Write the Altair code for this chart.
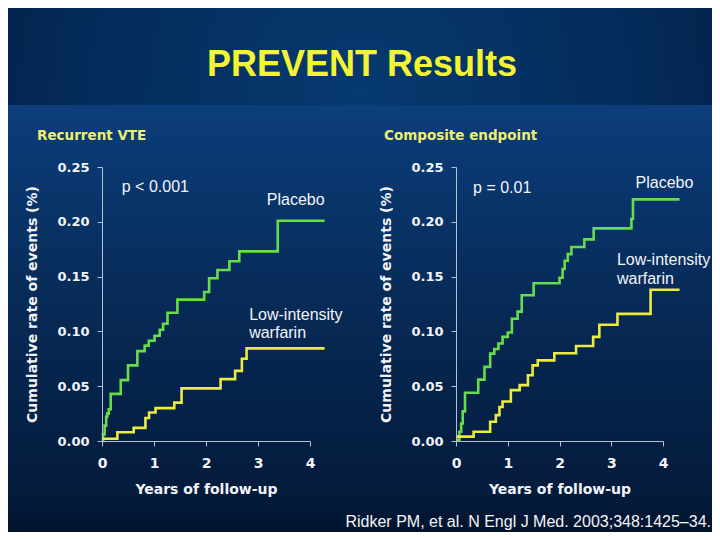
import altair as alt
import pandas as pd

# ---------------- data ----------------
TITLE = "PREVENT Results"
FOOTER = "Ridker PM, et al. N Engl J Med. 2003;348:1425\u201334."
GROUPS = ["Placebo", "Low-intensity warfarin"]

# Recurrent VTE
vte_placebo_t = [0, 0.02, 0.05, 0.08, 0.10, 0.13, 0.167, 0.36, 0.50, 0.68, 0.82, 0.90, 1.01, 1.11, 1.175,
                 1.26, 1.45, 1.965, 2.06, 2.22, 2.45, 2.64, 3.38, 4.28]
vte_placebo_v = [0.0, 0.006, 0.014, 0.022, 0.025, 0.029, 0.043, 0.0555, 0.069, 0.082, 0.087, 0.0915, 0.096,
                 0.1015, 0.107, 0.117, 0.129, 0.136, 0.1485, 0.156, 0.164, 0.173, 0.201, 0.201]
vte_warfarin_t = [0, 0.295, 0.61, 0.835, 0.905, 1.03, 1.39, 1.53, 2.28, 2.56, 2.69, 2.78, 4.28]
vte_warfarin_v = [0.002, 0.008, 0.012, 0.021, 0.026, 0.030, 0.035, 0.048, 0.0565, 0.064, 0.075, 0.0845, 0.0845]

# Composite endpoint
comp_placebo_t = [0, 0.065, 0.10, 0.13, 0.174, 0.43, 0.55, 0.66, 0.74, 0.82, 0.90, 1.0, 1.08, 1.19, 1.27,
                  1.50, 2.0, 2.06, 2.10, 2.16, 2.23, 2.48, 2.66, 3.39, 3.42, 4.32]
comp_placebo_v = [0.001, 0.0085, 0.016, 0.027, 0.044, 0.056, 0.0676, 0.0797, 0.084, 0.089, 0.095, 0.099,
                  0.1115, 0.118, 0.133, 0.144, 0.149, 0.157, 0.1645, 0.1705, 0.177, 0.184, 0.194, 0.2025,
                  0.2205, 0.2205]
comp_warfarin_t = [0, 0.34, 0.66, 0.77, 0.84, 0.90, 1.06, 1.23, 1.39, 1.48, 1.58, 1.90, 2.32, 2.65, 2.77,
                   3.12, 3.76, 4.32]
comp_warfarin_v = [0.004, 0.0085, 0.0176, 0.0236, 0.031, 0.036, 0.0464, 0.051, 0.060, 0.069, 0.0736, 0.080,
                   0.0867, 0.095, 0.106, 0.116, 0.138, 0.138]

x_ticks = [0, 1, 2, 3, 4]
y_ticks = [0.0, 0.05, 0.10, 0.15, 0.20, 0.25]

# annotation labels (data units)
vte_labels = ["p < 0.001", "Placebo", "Low-intensity", "warfarin"]
vte_label_t = [0.38, 3.17, 2.83, 2.83]
vte_label_v = [0.232, 0.220, 0.115, 0.0985]
comp_labels = ["p = 0.01", "Placebo", "Low-intensity", "warfarin"]
comp_label_t = [0.33, 3.47, 3.11, 3.11]
comp_label_v = [0.231, 0.2354, 0.165, 0.148]

# ---------------- styling ----------------
FONT = "Liberation Sans"
AXFONT = "DejaVu Sans"
WHITE = "#f2f4f8"
AXIS_COL = "#b4c2d6"
GREEN = "#66dd4a"
YELLOW = "#ecec3c"
SUB_YELLOW = "#eef070"

W_PANEL, H_PANEL = 352, 400
Y_RANGE = [336, 62]

lower_grad = alt.LinearGradient(
    gradient="linear", x1=0, y1=0, x2=0, y2=1,
    stops=[alt.GradientStop(color="#0b3e7c", offset=0),
           alt.GradientStop(color="#072a56", offset=0.5),
           alt.GradientStop(color="#041a3a", offset=1)])
title_grad = alt.RadialGradient(
    gradient="radial", x1=0.5, y1=0.55, r1=0, x2=0.5, y2=0.55, r2=0.75,
    stops=[alt.GradientStop(color="#063a70", offset=0),
           alt.GradientStop(color="#042a58", offset=0.55),
           alt.GradientStop(color="#011a38", offset=1)])
foot_grad = alt.LinearGradient(
    gradient="linear", x1=0, y1=0, x2=0, y2=1,
    stops=[alt.GradientStop(color="#041a3a", offset=0),
           alt.GradientStop(color="#02132c", offset=1)])

ONE = pd.DataFrame({"k": [0]})


def backdrop(w, h, grad):
    return alt.Chart(ONE).mark_rect(fill=grad, strokeWidth=0).encode(
        x=alt.value(0), x2=alt.value(w), y=alt.value(0), y2=alt.value(h))


def panel(pl_t, pl_v, wf_t, wf_v, subtitle, labels, lab_t, lab_v, x_range, sub_x):
    df = pd.DataFrame({
        "t": list(pl_t) + list(wf_t),
        "v": list(pl_v) + list(wf_v),
        "grp": [GROUPS[0]] * len(pl_t) + [GROUPS[1]] * len(wf_t),
    })
    ann = pd.DataFrame({"t": lab_t, "v": lab_v, "label": labels})
    sub = pd.DataFrame({"label": [subtitle]})

    x_enc = alt.X("t:Q", scale=alt.Scale(domain=[0, 4], range=x_range, nice=False, zero=False),
                  axis=alt.Axis(values=x_ticks, format="d", title="Years of follow-up", offset=-64,
                                tickSize=5, labelPadding=10, titlePadding=12, grid=False,
                                domainColor=AXIS_COL, tickColor=AXIS_COL, labelColor=WHITE,
                                titleColor=WHITE, labelFont=AXFONT, titleFont=AXFONT,
                                labelFontWeight="bold", titleFontWeight="bold",
                                labelFontSize=14, titleFontSize=14, labelOverlap=False,
                                labelFlush=False, zindex=1))
    y_enc = alt.Y("v:Q", scale=alt.Scale(domain=[0, 0.25], range=Y_RANGE, nice=False, zero=False),
                  axis=alt.Axis(values=y_ticks, format=".2f", title="Cumulative rate of events (%)",
                                offset=-(x_range[0]), tickSize=5, labelPadding=8, titlePadding=17,
                                grid=False, domainColor=AXIS_COL, tickColor=AXIS_COL,
                                labelColor=WHITE, titleColor=WHITE, labelFont=AXFONT, titleFont=AXFONT,
                                labelFontWeight="bold", titleFontWeight="bold",
                                labelFontSize=13, titleFontSize=14, labelOverlap=False,
                                labelFlush=False, zindex=1))

    lines = alt.Chart(df).mark_line(interpolate="step-after", strokeWidth=2.6).encode(
        x=x_enc, y=y_enc,
        color=alt.Color("grp:N", scale=alt.Scale(domain=GROUPS, range=[GREEN, YELLOW]), legend=None),
    )
    texts = alt.Chart(ann).mark_text(align="left", baseline="middle", font=FONT, fontSize=16,
                                     color=WHITE).encode(x=x_enc, y=y_enc, text="label:N")
    subt = alt.Chart(sub).mark_text(align="left", baseline="middle", font=AXFONT, fontSize=13.5,
                                    fontWeight="bold", color=SUB_YELLOW).encode(
        x=alt.value(sub_x), y=alt.value(31), text="label:N")
    return alt.layer(backdrop(W_PANEL, H_PANEL, lower_grad), lines, texts, subt).properties(
        width=W_PANEL, height=H_PANEL)


left = panel(vte_placebo_t, vte_placebo_v, vte_warfarin_t, vte_warfarin_v, "Recurrent VTE",
             vte_labels, vte_label_t, vte_label_v, [94, 302], 29)
right = panel(comp_placebo_t, comp_placebo_v, comp_warfarin_t, comp_warfarin_v, "Composite endpoint",
              comp_labels, comp_label_t, comp_label_v, [96, 303], 24)

title_text = alt.Chart(pd.DataFrame({"label": [TITLE]})).mark_text(
    align="center", baseline="middle", font=FONT, fontSize=36, fontWeight="bold", color="#f4f432"
).encode(x=alt.value(354), y=alt.value(57), text="label:N")
title_chart = alt.layer(backdrop(704, 97, title_grad), title_text).properties(width=704, height=97)

footer_text = alt.Chart(pd.DataFrame({"label": [FOOTER]})).mark_text(
    align="right", baseline="middle", font=FONT, fontSize=16, color=WHITE
).encode(x=alt.value(703), y=alt.value(17), text="label:N")
footer = alt.layer(backdrop(704, 27, foot_grad), footer_text).properties(width=704, height=27)

chart = alt.vconcat(
    title_chart,
    alt.hconcat(left, right, spacing=0),
    footer,
    spacing=0,
).properties(padding=0, background="#031632").configure_concat(spacing=0).configure_view(strokeWidth=0)

chart.save("out.html", embed_options={"renderer": "svg", "actions": False})
